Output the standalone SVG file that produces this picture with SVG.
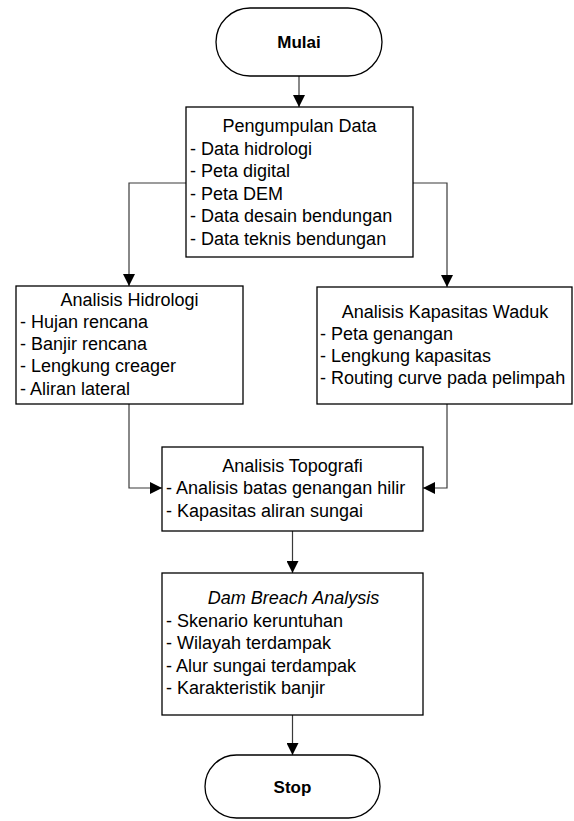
<svg xmlns="http://www.w3.org/2000/svg" width="574" height="821" viewBox="0 0 574 821">
<style>
.box{fill:#fff;stroke:#000;stroke-width:1.3}
.t{font-family:"Liberation Sans",Arial,sans-serif;font-size:18px;fill:#000}
.c{text-anchor:middle}
.b{font-weight:bold;font-size:17px}
.i{font-style:italic}
.conn{fill:none;stroke:#3a3a3a;stroke-width:1.2}
</style>
<defs>
<marker id="arr" markerUnits="userSpaceOnUse" markerWidth="12" markerHeight="12" refX="12" refY="6" orient="auto">
<path d="M0,0 L12,6 L0,12 z" fill="#000"/>
</marker>
</defs>
<rect width="574" height="821" fill="#fff"/>
<g id="connectors">
<path class="conn" d="M299,76 V107" marker-end="url(#arr)"/>
<path class="conn" d="M186,183 H129 V286" marker-end="url(#arr)"/>
<path class="conn" d="M413,183 H447 V287" marker-end="url(#arr)"/>
<path class="conn" d="M129,404 V488 H162" marker-end="url(#arr)"/>
<path class="conn" d="M447,404 V488 H423" marker-end="url(#arr)"/>
<path class="conn" d="M292.5,531 V573" marker-end="url(#arr)"/>
<path class="conn" d="M292.5,715 V755" marker-end="url(#arr)"/>
</g>
<g id="mulai">
<rect class="box" x="216" y="8" width="166" height="68" rx="34" ry="34"/>
<text class="t c b" x="299" y="48">Mulai</text>
</g>
<g id="pengumpulan">
<rect class="box" x="186" y="107" width="227" height="150"/>
<text class="t c" x="299.5" y="132">Pengumpulan Data</text>
<text class="t" x="190" y="155">- Data hidrologi</text>
<text class="t" x="190" y="177">- Peta digital</text>
<text class="t" x="190" y="200">- Peta DEM</text>
<text class="t" x="190" y="222">- Data desain bendungan</text>
<text class="t" x="190" y="245">- Data teknis bendungan</text>
</g>
<g id="hidrologi">
<rect class="box" x="16" y="286" width="227" height="118"/>
<text class="t c" x="129.5" y="306">Analisis Hidrologi</text>
<text class="t" x="20" y="328">- Hujan rencana</text>
<text class="t" x="20" y="350">- Banjir rencana</text>
<text class="t" x="20" y="372">- Lengkung creager</text>
<text class="t" x="20" y="395">- Aliran lateral</text>
</g>
<g id="kapasitas">
<rect class="box" x="317" y="287" width="255" height="117"/>
<text class="t c" x="445" y="318">Analisis Kapasitas Waduk</text>
<text class="t" x="320" y="340">- Peta genangan</text>
<text class="t" x="320" y="362">- Lengkung kapasitas</text>
<text class="t" x="320" y="384">- Routing curve pada pelimpah</text>
</g>
<g id="topografi">
<rect class="box" x="162" y="447" width="261" height="84"/>
<text class="t c" x="292.5" y="472">Analisis Topografi</text>
<text class="t" x="166" y="494">- Analisis batas genangan hilir</text>
<text class="t" x="166" y="517">- Kapasitas aliran sungai</text>
</g>
<g id="dambreach">
<rect class="box" x="162" y="573" width="261" height="142"/>
<text class="t c i" x="293.5" y="604">Dam Breach Analysis</text>
<text class="t" x="166" y="627">- Skenario keruntuhan</text>
<text class="t" x="166" y="649">- Wilayah terdampak</text>
<text class="t" x="166" y="672">- Alur sungai terdampak</text>
<text class="t" x="166" y="694">- Karakteristik banjir</text>
</g>
<g id="stop">
<rect class="box" x="205" y="755" width="175" height="63" rx="31.5" ry="31.5"/>
<text class="t c b" x="292.5" y="793">Stop</text>
</g>
</svg>
